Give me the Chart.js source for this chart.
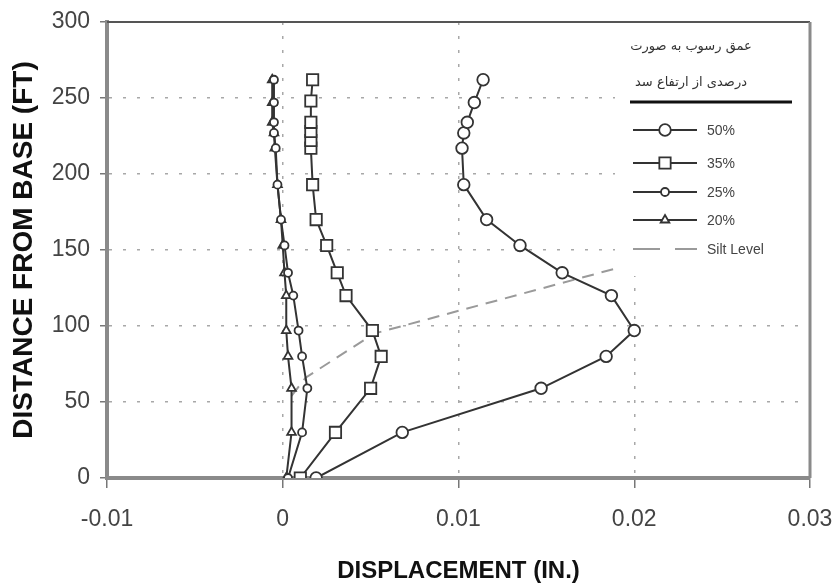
<!DOCTYPE html>
<html><head><meta charset="utf-8">
<script src="https://cdn.jsdelivr.net/npm/chart.js@4/dist/chart.umd.min.js"></script>
<style>html,body{margin:0;padding:0;background:#fff}</style>
</head><body>
<canvas id="c" width="836" height="585"></canvas>
<script>
// ---- data ----
const seriesLabels = ['50%', '35%', '25%', '20%', 'Silt Level'];
const legendTitle = ['عمق رسوب به صورت', 'درصدی از ارتفاع سد'];
const xTickLabels = ['-0.01', '0', '0.01', '0.02', '0.03'];
const yTickLabels = ['0', '50', '100', '150', '200', '250', '300'];

const height50 = [0, 30, 59, 80, 97, 120, 135, 153, 170, 193, 217, 227, 234, 247, 262];
const disp50   = [0.0019, 0.0068, 0.0147, 0.0184, 0.0200, 0.0187, 0.0159, 0.0135, 0.0116, 0.0103, 0.0102, 0.0103, 0.0105, 0.0109, 0.0114];

const height35 = [0, 30, 59, 80, 97, 120, 135, 153, 170, 193, 217, 222, 228, 234, 248, 262];
const disp35   = [0.0010, 0.0030, 0.0050, 0.0056, 0.0051, 0.0036, 0.0031, 0.0025, 0.0019, 0.0017, 0.0016, 0.0016, 0.0016, 0.0016, 0.0016, 0.0017];

const height25 = [0, 30, 59, 80, 97, 120, 135, 153, 170, 193, 217, 227, 234, 247, 262];
const disp25   = [0.0003, 0.0011, 0.0014, 0.0011, 0.0009, 0.0006, 0.0003, 0.0001, -0.0001, -0.0003, -0.0004, -0.0005, -0.0005, -0.0005, -0.0005];

const height20 = [0, 30, 59, 80, 97, 120, 135, 153, 170, 193, 217, 227, 234, 247, 262];
const disp20   = [0.0002, 0.0005, 0.0005, 0.0003, 0.0002, 0.0002, 0.0001, 0.0000, -0.0001, -0.0003, -0.00045, -0.0005, -0.0006, -0.0006, -0.0006];

const heightSilt = [54, 66, 95, 138];
const dispSilt   = [0.0005, 0.0013, 0.0052, 0.0190];

// ---- build ----
const pts = (xs, ys) => xs.map((x, i) => ({x: x, y: ys[i]}));
const INK = '#333';
const SANS = "'Liberation Sans', Arial, sans-serif";

function series(label, xs, ys, style, r) {
  return {
    label, data: pts(xs, ys), showLine: true,
    borderColor: INK, borderWidth: 2,
    pointStyle: style, pointRadius: r, pointHoverRadius: r,
    pointBackgroundColor: '#fff', pointBorderColor: INK, pointBorderWidth: 1.8
  };
}
const markerSpec = [['circle', 5.8], ['rect', 8], ['circle', 4], ['triangle', 5]];
const datasets = [
  series(seriesLabels[0], disp50, height50, markerSpec[0][0], markerSpec[0][1]),
  series(seriesLabels[1], disp35, height35, markerSpec[1][0], markerSpec[1][1]),
  series(seriesLabels[2], disp25, height25, markerSpec[2][0], markerSpec[2][1]),
  series(seriesLabels[3], disp20, height20, markerSpec[3][0], markerSpec[3][1]),
  { label: seriesLabels[4], data: pts(dispSilt, heightSilt), showLine: true,
    borderColor: '#9a9a9a', borderWidth: 2, borderDash: [12, 8], pointRadius: 0 }
];

function marker(ctx, style, r, x, y) {
  ctx.beginPath();
  if (style === 'circle') ctx.arc(x, y, r, 0, Math.PI * 2);
  else if (style === 'rect') { const s = r / Math.SQRT2; ctx.rect(x - s, y - s, 2 * s, 2 * s); }
  else if (style === 'triangle') {
    ctx.moveTo(x, y - r); ctx.lineTo(x + r * 0.866, y + r * 0.5); ctx.lineTo(x - r * 0.866, y + r * 0.5); ctx.closePath();
  }
  ctx.fillStyle = '#fff'; ctx.fill();
  ctx.lineWidth = 1.8; ctx.strokeStyle = INK; ctx.stroke();
}

const LEG_LEFT = 615, LEG_BOTTOM = 275;
const framePlugin = {
  id: 'frame',
  beforeDatasetsDraw(chart) {
    const {ctx, chartArea: a} = chart;
    ctx.save();
    ctx.fillStyle = '#fff';
    ctx.fillRect(LEG_LEFT, a.top + 1, a.right - LEG_LEFT - 1, LEG_BOTTOM - a.top);
    ctx.restore();
  },
  afterDraw(chart) {
    const {ctx, chartArea: a} = chart;
    ctx.save();
    // frame top / right
    ctx.strokeStyle = '#555'; ctx.lineWidth = 2;
    ctx.beginPath(); ctx.moveTo(a.left, a.top); ctx.lineTo(a.right, a.top); ctx.stroke();
    ctx.strokeStyle = '#8a8a8a'; ctx.lineWidth = 3;
    ctx.beginPath(); ctx.moveTo(a.right, a.top); ctx.lineTo(a.right, a.bottom); ctx.stroke();
    // legend title (Persian)
    ctx.fillStyle = '#333';
    ctx.font = "13px 'DejaVu Sans', 'Noto Sans', sans-serif";
    ctx.textAlign = 'center'; ctx.textBaseline = 'middle';
    ctx.direction = 'rtl';
    ctx.fillText(legendTitle[0], 691, a.top + 25);
    ctx.fillText(legendTitle[1], 691, a.top + 61);
    ctx.direction = 'ltr';
    // thick rule
    ctx.strokeStyle = '#111'; ctx.lineWidth = 3;
    ctx.beginPath(); ctx.moveTo(630, a.top + 80); ctx.lineTo(792, a.top + 80); ctx.stroke();
    // entries
    const ys = [108, 141, 170, 198, 227];
    ctx.font = "14px " + SANS;
    ctx.textAlign = 'left';
    for (let i = 0; i < seriesLabels.length; i++) {
      const y = a.top + ys[i];
      if (i < 4) {
        ctx.strokeStyle = INK; ctx.lineWidth = 2; ctx.setLineDash([]);
        ctx.beginPath(); ctx.moveTo(633, y); ctx.lineTo(697, y); ctx.stroke();
        marker(ctx, markerSpec[i][0], markerSpec[i][1], 665, y);
      } else {
        ctx.strokeStyle = '#9a9a9a'; ctx.lineWidth = 2; ctx.setLineDash([27, 15]);
        ctx.beginPath(); ctx.moveTo(633, y); ctx.lineTo(697, y); ctx.stroke();
        ctx.setLineDash([]);
      }
      ctx.fillStyle = '#444';
      ctx.fillText(seriesLabels[i], 707, y + 1);
    }
    ctx.restore();
  }
};

const edgeAware = (edges) => (c) => edges.includes(c.index) ? 'rgba(0,0,0,0)' : '#a8a8a8';

new Chart(document.getElementById('c'), {
  type: 'scatter',
  data: { datasets },
  options: {
    responsive: false, animation: false, devicePixelRatio: 1,
    layout: { padding: { top: 22, right: 26, left: 0, bottom: 0 } },
    plugins: { legend: { display: false }, tooltip: { enabled: false } },
    scales: {
      x: {
        type: 'linear', min: -0.01, max: 0.03,
        afterFit: (s) => { s.height = 107; s.paddingLeft = 0; s.paddingRight = 0; },
        ticks: { stepSize: 0.01, color: '#444', padding: 18,
          font: { family: SANS, size: 23 },
          callback: (v, i) => xTickLabels[i] },
        grid: { color: edgeAware([0, 4]), lineWidth: 1.5,
          tickLength: 10, tickColor: '#777', tickWidth: 1.5, tickBorderDash: [] },
        border: { display: true, color: '#8a8a8a', width: 4, dash: [3, 11] },
        title: { display: true, text: 'DISPLACEMENT (IN.)', color: '#111',
          font: { family: SANS, size: 24, weight: 'bold', lineHeight: 1.1 }, padding: 0 }
      },
      y: {
        type: 'linear', min: 0, max: 300,
        afterFit: (s) => { s.width = 107; s.paddingTop = 0; s.paddingBottom = 0; },
        ticks: { stepSize: 50, color: '#444', padding: 10,
          font: { family: SANS, size: 23 },
          callback: (v, i) => yTickLabels[i] },
        grid: { color: edgeAware([0, 6]), lineWidth: 1.5,
          tickLength: 7, tickColor: '#777', tickWidth: 1.5, tickBorderDash: [] },
        border: { display: true, color: '#8a8a8a', width: 4, dash: [3, 11] },
        title: { display: true, text: 'DISTANCE FROM BASE (FT)', color: '#111',
          font: { family: SANS, size: 28, weight: 'bold', lineHeight: 1.2 },
          padding: { top: 7, bottom: 0 } }
      }
    }
  },
  plugins: [framePlugin]
});
</script>
</body></html>
